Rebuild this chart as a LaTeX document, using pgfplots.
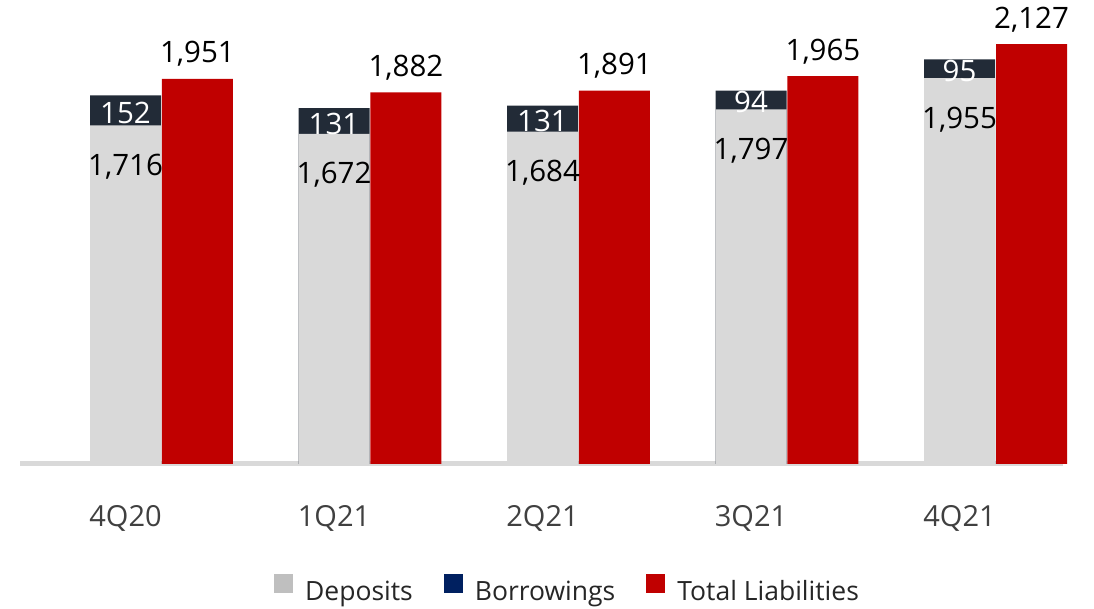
\documentclass[border=0pt]{standalone}
\usepackage{pgfplots}
\pgfplotsset{compat=1.18}
\usepackage{pgfplotstable}
\usepackage{fontspec}
\setmainfont{Open Sans}
\definecolor{dep}{HTML}{D9D9D9}
\definecolor{bor}{HTML}{222B37}
\definecolor{tot}{HTML}{C00000}
\definecolor{depL}{HTML}{BFBFBF}
\definecolor{borL}{HTML}{002060}
\definecolor{txt}{HTML}{404040}
\definecolor{legtxt}{HTML}{262626}

\pgfplotstableread{
x dep bor tot depl borl totl
0 1716 152 1951 1,716 152 1,951
1 1672 131 1882 1,672 131 1,882
2 1684 131 1891 1,684 131 1,891
3 1797 94 1965 1,797 94 1,965
4 1955 95 2127 1,955 95 2,127
}\data

\begin{document}
\begin{tikzpicture}[x=1pt,y=1pt]
\path[use as bounding box] (0,0) rectangle (1094,609);
\begin{axis}[
  at={(20pt,145pt)}, anchor=south west, scale only axis,
  width=1043pt, height=440pt,
  xmin=-0.506, xmax=4.496, ymin=0, ymax=2229, clip=false,
  axis x line*=bottom, axis y line=none,
  x axis line style={draw=dep, line width=5pt, -},
  xtick={0,1,2,3,4}, xticklabels={4Q20,1Q21,2Q21,3Q21,4Q21},
  major tick length=0pt, ytick=\empty,
  xticklabel style={anchor=base, yshift=-62.5pt, font=\fontsize{29}{34}\selectfont, text=txt},
  legend image code/.code={\fill[#1, draw=none] (0pt,-2pt) rectangle (19pt,17pt);},
  legend style={at={(axis description cs:0.524,-0.2818)}, anchor=center,
    draw=none, fill=none, legend columns=3, inner sep=0pt,
    font=\fontsize{26.5}{30}\selectfont, text=legtxt,
    nodes={inner sep=0pt},
    /tikz/every odd column/.append style={column sep=12pt},
    /tikz/every even column/.append style={column sep=31pt}},
  legend cell align=left,
]
\addplot[ybar, bar width=0.3405, bar shift=0pt, fill=bor, draw=none, forget plot]
  table[x=x, y expr=\thisrow{dep}+\thisrow{bor}] {\data};
\addplot[ybar, bar width=0.3405, bar shift=0pt, fill=dep, draw=none, forget plot,
  nodes near coords, point meta=explicit symbolic,
  every node near coord/.append style={anchor=base, yshift=-50pt, text=black, font=\fontsize{29.5}{34}\selectfont}]
  table[x=x, y=dep, meta=depl] {\data};
\addplot[ybar, bar width=0.3405, bar shift=0pt, fill=tot, draw=none, forget plot,
  nodes near coords, point meta=explicit symbolic,
  every node near coord/.append style={anchor=base, yshift=16pt, text=black, font=\fontsize{29.5}{34}\selectfont}]
  table[x expr=\thisrow{x}+0.345, y=tot, meta=totl] {\data};
\addplot[draw=none, mark=none, forget plot,
  nodes near coords, point meta=explicit symbolic,
  every node near coord/.append style={anchor=base, yshift=-13pt, text=white, font=\fontsize{29.5}{34}\selectfont}]
  table[x=x, y expr=\thisrow{dep}+\thisrow{bor}/2, meta=borl] {\data};
\addlegendimage{fill=depL}
\addlegendentry{Deposits}
\addlegendimage{fill=borL}
\addlegendentry{Borrowings}
\addlegendimage{fill=tot}
\addlegendentry{Total Liabilities}
\end{axis}
\end{tikzpicture}
\end{document}
